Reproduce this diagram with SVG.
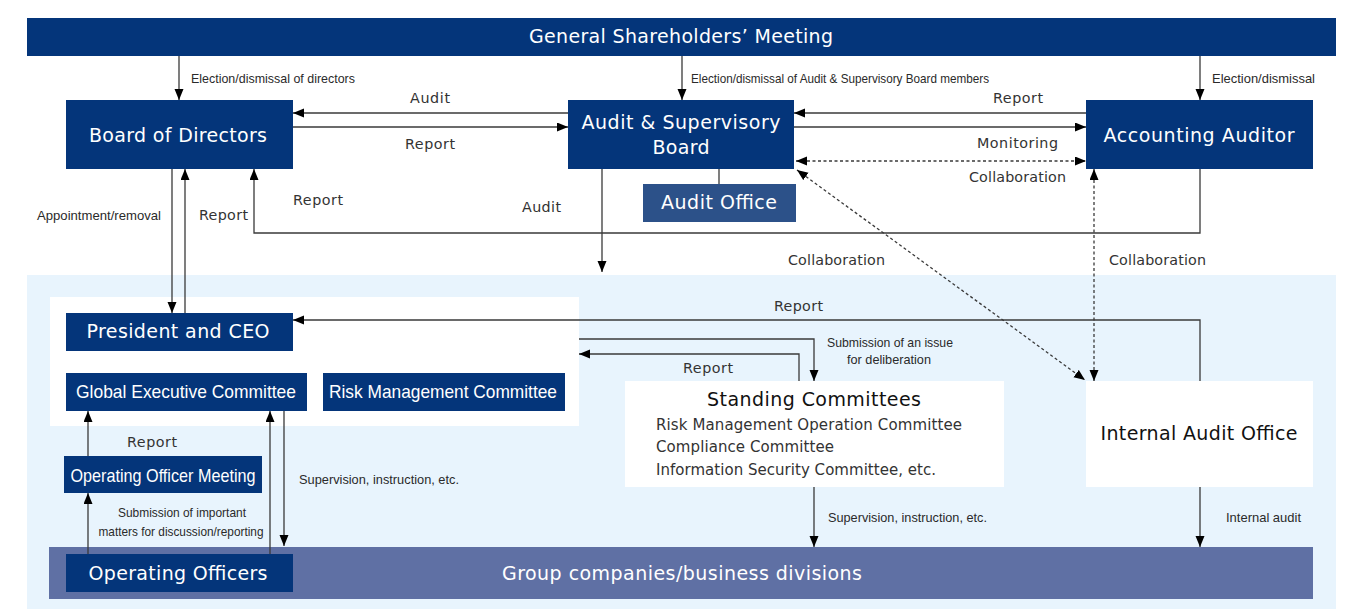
<svg xmlns="http://www.w3.org/2000/svg" width="1347" height="609" viewBox="0 0 1347 609">
<style>
.navy{fill:#04357a}
.ao{fill:#2c5189}
.grp{fill:#5f70a4}
.wt{fill:#ffffff}
.nt{font-family:"DejaVu Sans","Liberation Sans",sans-serif;font-size:19px;fill:#ffffff}
.ct{font-family:"Liberation Sans Narrow","Liberation Sans",sans-serif;font-size:19px;fill:#ffffff}
.lb{font-family:"DejaVu Sans","Liberation Sans",sans-serif;font-size:14.3px;fill:#333333}
.sm{font-family:"Liberation Sans Narrow","Liberation Sans",sans-serif;font-size:13.5px;fill:#2a2a2a}
.bk{font-family:"DejaVu Sans","Liberation Sans",sans-serif;fill:#111111}
.li{font-family:"DejaVu Sans","Liberation Sans",sans-serif;font-size:15px;fill:#333333}
.ln{fill:none;stroke:#3a3a3a;stroke-width:1.3}
.ar{marker-end:url(#ah)}
.as{marker-start:url(#ah)}
.ds{stroke-dasharray:3 2.5}
</style>
<defs>
<marker id="ah" markerUnits="userSpaceOnUse" markerWidth="12" markerHeight="10" refX="11" refY="4.5" orient="auto-start-reverse" viewBox="0 0 12 10">
<path d="M0,0 L11,4.5 L0,9 z" fill="#000000"/>
</marker>
</defs>

<rect x="27" y="275" width="1309" height="334" fill="#e8f4fd"/>
<rect x="50" y="297" width="529" height="129" fill="#ffffff"/>

<g id="shareholders">
<rect class="navy" x="27" y="18" width="1309" height="38"/>
<text class="nt" x="681" y="43" text-anchor="middle" textLength="304">General Shareholders’ Meeting</text>
</g>
<g id="board">
<rect class="navy" x="66" y="100" width="227" height="69"/>
<text class="nt" x="178" y="142" text-anchor="middle" textLength="178">Board of Directors</text>
</g>
<g id="asb">
<rect class="navy" x="568" y="100" width="226" height="69"/>
<text class="nt" x="681" y="129" text-anchor="middle" textLength="199">Audit &amp; Supervisory</text>
<text class="nt" x="681" y="154" text-anchor="middle" textLength="57">Board</text>
</g>
<g id="accounting">
<rect class="navy" x="1086" y="100" width="227" height="69"/>
<text class="nt" x="1199" y="142" text-anchor="middle" textLength="191">Accounting Auditor</text>
</g>
<g id="auditoffice">
<rect class="ao" x="643" y="184" width="153" height="38"/>
<text class="nt" x="719" y="209" text-anchor="middle" textLength="116">Audit Office</text>
</g>
<g id="president">
<rect class="navy" x="66" y="313" width="227" height="38"/>
<text class="nt" x="178" y="338" text-anchor="middle" textLength="183">President and CEO</text>
</g>
<g id="gec">
<rect class="navy" x="66" y="373" width="241" height="38"/>
<text class="ct" x="186" y="398" text-anchor="middle" textLength="220" lengthAdjust="spacingAndGlyphs">Global Executive Committee</text>
</g>
<g id="rmc">
<rect class="navy" x="323" y="373" width="242" height="38"/>
<text class="ct" x="443" y="398" text-anchor="middle" textLength="228" lengthAdjust="spacingAndGlyphs">Risk Management Committee</text>
</g>
<g id="oom">
<rect class="navy" x="64" y="456" width="198" height="37"/>
<text class="ct" x="163" y="482" text-anchor="middle" textLength="185" lengthAdjust="spacingAndGlyphs">Operating Officer Meeting</text>
</g>
<g id="group">
<rect class="grp" x="49" y="547" width="1264" height="52"/>
<text class="nt" x="682" y="580" text-anchor="middle" textLength="360">Group companies/business divisions</text>
</g>
<g id="officers">
<rect class="navy" x="66" y="554" width="227" height="38"/>
<text class="nt" x="178" y="580" text-anchor="middle" textLength="179">Operating Officers</text>
</g>
<g id="standing">
<rect class="wt" x="625" y="381" width="379" height="106"/>
<text class="bk" x="814" y="406" font-size="19" text-anchor="middle" textLength="214">Standing Committees</text>
<text class="li" x="656" y="430" textLength="306">Risk Management Operation Committee</text>
<text class="li" x="656" y="452" textLength="178">Compliance Committee</text>
<text class="li" x="656" y="475" textLength="280">Information Security Committee, etc.</text>
</g>
<g id="internalaudit">
<rect class="wt" x="1086" y="381" width="227" height="106"/>
<text class="bk" x="1199" y="440" font-size="19" text-anchor="middle" textLength="197">Internal Audit Office</text>
</g>

<g id="connectors">
<line class="ln ar" x1="179" y1="56" x2="179" y2="100"/>
<line class="ln ar" x1="682" y1="56" x2="682" y2="100"/>
<line class="ln ar" x1="1200" y1="56" x2="1200" y2="100"/>
<line class="ln ar" x1="568" y1="113" x2="293" y2="113"/>
<line class="ln ar" x1="293" y1="127" x2="568" y2="127"/>
<line class="ln ar" x1="1086" y1="113" x2="794" y2="113"/>
<line class="ln ar" x1="794" y1="127" x2="1086" y2="127"/>
<line class="ln ar as ds" x1="796" y1="161" x2="1086" y2="161"/>
<polyline class="ln ar" points="1200,169 1200,233 254,233 254,169"/>
<line class="ln ar" x1="172" y1="169" x2="172" y2="313"/>
<line class="ln ar" x1="185" y1="313" x2="185" y2="169"/>
<line class="ln ar" x1="602" y1="169" x2="602" y2="272"/>
<line class="ln" x1="719" y1="169" x2="719" y2="184"/>
<line class="ln ar as ds" x1="797" y1="170" x2="1085" y2="380"/>
<line class="ln ar as ds" x1="1094" y1="169" x2="1094" y2="381"/>
<polyline class="ln ar" points="1200,381 1200,320 293,320"/>
<polyline class="ln ar" points="579,339 814,339 814,381"/>
<polyline class="ln ar" points="799,381 799,354 579,354"/>
<line class="ln ar" x1="814" y1="487" x2="814" y2="547"/>
<line class="ln ar" x1="1200" y1="487" x2="1200" y2="547"/>
<line class="ln ar" x1="88" y1="456" x2="88" y2="411"/>
<line class="ln ar" x1="88" y1="554" x2="88" y2="493"/>
<line class="ln ar" x1="270" y1="554" x2="270" y2="411"/>
<line class="ln ar" x1="284" y1="411" x2="284" y2="546"/>

<text class="sm" x="191" y="83" textLength="164" lengthAdjust="spacingAndGlyphs">Election/dismissal of directors</text>
<text class="sm" x="691" y="83" textLength="298" lengthAdjust="spacingAndGlyphs">Election/dismissal of Audit &amp; Supervisory Board members</text>
<text class="sm" x="1212" y="83" textLength="103" lengthAdjust="spacingAndGlyphs">Election/dismissal</text>
<text class="lb" x="410" y="103" textLength="40">Audit</text>
<text class="lb" x="405" y="149" textLength="50">Report</text>
<text class="lb" x="993" y="103" textLength="50">Report</text>
<text class="lb" x="977" y="148" textLength="81">Monitoring</text>
<text class="lb" x="969" y="182" textLength="97">Collaboration</text>
<text class="lb" x="293" y="205" textLength="50">Report</text>
<text class="lb" x="199" y="220" textLength="49">Report</text>
<text class="sm" x="37" y="220" textLength="124" lengthAdjust="spacingAndGlyphs">Appointment/removal</text>
<text class="lb" x="522" y="212" textLength="39">Audit</text>
<text class="lb" x="788" y="265" textLength="97">Collaboration</text>
<text class="lb" x="1109" y="265" textLength="97">Collaboration</text>
<text class="lb" x="774" y="311" textLength="49">Report</text>
<text class="lb" x="683" y="373" textLength="50">Report</text>
<text class="sm" x="890" y="347" text-anchor="middle" textLength="126" lengthAdjust="spacingAndGlyphs">Submission of an issue</text>
<text class="sm" x="889" y="364" text-anchor="middle" textLength="84" lengthAdjust="spacingAndGlyphs">for deliberation</text>
<text class="sm" x="828" y="522" textLength="159" lengthAdjust="spacingAndGlyphs">Supervision, instruction, etc.</text>
<text class="sm" x="1226" y="522" textLength="75" lengthAdjust="spacingAndGlyphs">Internal audit</text>
<text class="lb" x="127" y="447" textLength="50">Report</text>
<text class="sm" x="182" y="517" text-anchor="middle" textLength="128" lengthAdjust="spacingAndGlyphs">Submission of important</text>
<text class="sm" x="181" y="536" text-anchor="middle" textLength="165" lengthAdjust="spacingAndGlyphs">matters for discussion/reporting</text>
<text class="sm" x="299" y="484" textLength="160" lengthAdjust="spacingAndGlyphs">Supervision, instruction, etc.</text>
</g>
</svg>
